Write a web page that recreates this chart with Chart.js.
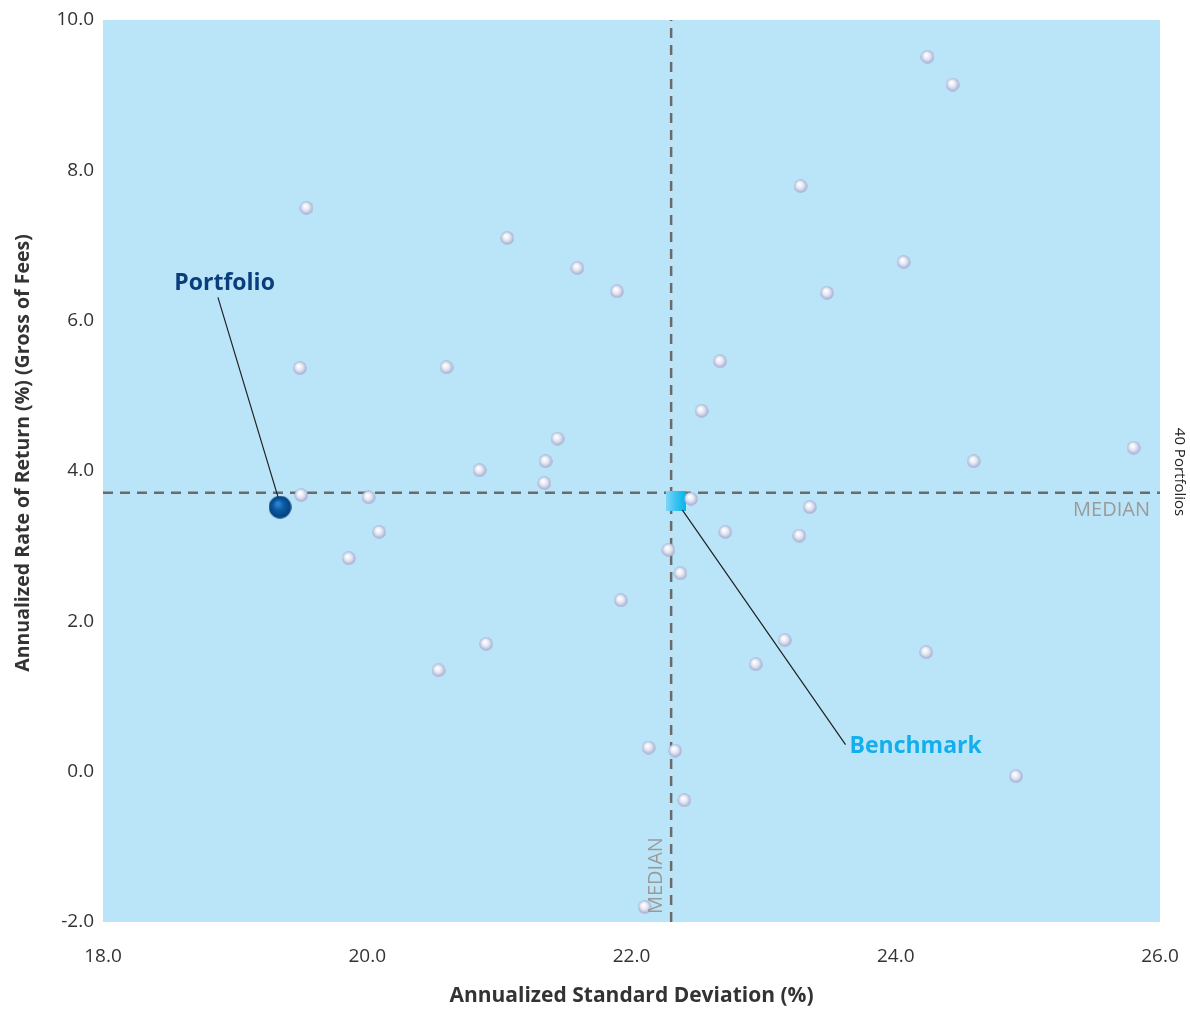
<!DOCTYPE html>
<html>
<head>
<meta charset="utf-8">
<script src="https://cdn.jsdelivr.net/npm/chart.js@4.4.1/dist/chart.umd.min.js"></script>
<style>
  html, body { margin: 0; padding: 0; background: #fff; }
  #wrap { width: 1190px; height: 1009px; }
</style>
</head>
<body>
<div id="wrap"><canvas id="chart" width="1190" height="1009"></canvas></div>
<script>
// peer universe: 40 portfolios (std dev %, return %)
const peerRisk = [24.24, 24.43, 23.28, 19.54, 21.06, 24.06, 21.59, 21.89, 23.48, 22.67,
  19.49, 20.60, 22.53, 21.44, 25.80, 21.35, 24.59, 20.85, 21.34, 19.50,
  20.01, 22.45, 23.35, 20.09, 22.71, 23.27, 22.28, 19.86, 22.37, 21.92,
  23.16, 20.90, 24.23, 22.94, 20.54, 22.13, 22.33, 24.91, 22.40, 22.10];
const peerReturn = [9.51, 9.14, 7.79, 7.50, 7.10, 6.78, 6.70, 6.39, 6.37, 5.46,
  5.37, 5.38, 4.80, 4.43, 4.31, 4.13, 4.13, 4.01, 3.84, 3.68,
  3.65, 3.63, 3.52, 3.19, 3.19, 3.14, 2.95, 2.84, 2.64, 2.28,
  1.75, 1.70, 1.59, 1.43, 1.35, 0.32, 0.28, -0.06, -0.38, -1.80];

const portfolioPoint = { x: 19.34, y: 3.52 };
const benchmarkPoint = { x: 22.34, y: 3.60 };

const medianRisk = 22.30;
const medianReturn = 3.71;

const xTicks = [18, 20, 22, 24, 26];
const yTicks = [-2, 0, 2, 4, 6, 8, 10];

// callout label anchors in data units
const portfolioLabel = { text: 'Portfolio', x: 18.54, y: 6.50, lineX: 18.87, lineY: 6.31 };
const benchmarkLabel = { text: 'Benchmark', x: 23.65, y: 0.33, lineX: 23.62, lineY: 0.36 };

const FONT = '"Open Sans", Lato, sans-serif';

function makeSphere(size, stops) {
  const c = document.createElement('canvas');
  c.width = size; c.height = size;
  const g = c.getContext('2d');
  const r = size / 2;
  const grad = g.createRadialGradient(r * 0.8, r * 0.7, r * 0.1, r, r, r);
  stops.forEach(([p, col]) => grad.addColorStop(p, col));
  g.fillStyle = grad;
  g.beginPath();
  g.arc(r, r, r - 0.3, 0, Math.PI * 2);
  g.fill();
  return c;
}

function makeSquare(size) {
  const c = document.createElement('canvas');
  c.width = size; c.height = size;
  const g = c.getContext('2d');
  const grad = g.createLinearGradient(0, 0, size, 0);
  grad.addColorStop(0, '#7fd5f6');
  grad.addColorStop(0.45, '#3cc4f2');
  grad.addColorStop(1, '#00b6ec');
  g.fillStyle = grad;
  g.fillRect(0, 0, size, size);
  return c;
}

const peerImg = makeSphere(14, [[0, '#ffffff'], [0.45, '#e4e7f3'], [0.8, '#b9bfdc'], [1, '#9ea6c9']]);
const portImg = makeSphere(23, [[0, '#2f86cc'], [0.4, '#0b5ca6'], [0.85, '#034785'], [1, '#023a70']]);
const benchImg = makeSquare(20);

const bgPlugin = {
  id: 'bg',
  beforeDraw(chart) {
    const { ctx, chartArea: a } = chart;
    ctx.save();
    ctx.fillStyle = '#bae5f8';
    ctx.fillRect(a.left, a.top, a.right - a.left, a.bottom - a.top);
    ctx.restore();
  }
};

const notesPlugin = {
  id: 'notes',
  afterDraw(chart) {
    const { ctx, chartArea: a, scales: { x, y } } = chart;
    ctx.save();
    // y axis title, sits a little above the plot centre
    ctx.save();
    ctx.translate(23, (a.top + a.bottom) / 2 - 18);
    ctx.rotate(-Math.PI / 2);
    ctx.fillStyle = '#333';
    ctx.font = 'bold 19.5px ' + FONT;
    ctx.textAlign = 'center';
    ctx.textBaseline = 'middle';
    ctx.fillText('Annualized Rate of Return (%) (Gross of Fees)', 0, 0);
    ctx.restore();

    // median labels
    ctx.fillStyle = '#9a9a9a';
    ctx.font = '20px ' + FONT;
    ctx.textAlign = 'right';
    ctx.textBaseline = 'top';
    ctx.fillText('MEDIAN', a.right - 10, y.getPixelForValue(medianReturn) + 7);
    ctx.save();
    ctx.translate(x.getPixelForValue(medianRisk) - 15, a.bottom - 8);
    ctx.rotate(-Math.PI / 2);
    ctx.textAlign = 'left';
    ctx.textBaseline = 'middle';
    ctx.fillText('MEDIAN', 0, 0);
    ctx.restore();

    // universe count
    ctx.save();
    ctx.translate(a.right + 19, (a.top + a.bottom) / 2 + 1);
    ctx.rotate(Math.PI / 2);
    ctx.fillStyle = '#222';
    ctx.font = '15px ' + FONT;
    ctx.textAlign = 'center';
    ctx.textBaseline = 'middle';
    ctx.fillText('40 Portfolios', 0, 0);
    ctx.restore();

    // callouts
    ctx.strokeStyle = '#222';
    ctx.lineWidth = 1.2;
    ctx.beginPath();
    ctx.moveTo(x.getPixelForValue(portfolioLabel.lineX), y.getPixelForValue(portfolioLabel.lineY));
    ctx.lineTo(x.getPixelForValue(portfolioPoint.x) - 2, y.getPixelForValue(portfolioPoint.y) - 10);
    ctx.moveTo(x.getPixelForValue(benchmarkPoint.x) + 6, y.getPixelForValue(benchmarkPoint.y) + 9);
    ctx.lineTo(x.getPixelForValue(benchmarkLabel.lineX), y.getPixelForValue(benchmarkLabel.lineY));
    ctx.stroke();

    ctx.font = 'bold 23px ' + FONT;
    ctx.textAlign = 'left';
    ctx.textBaseline = 'middle';
    ctx.fillStyle = '#0a3d7c';
    ctx.fillText(portfolioLabel.text, x.getPixelForValue(portfolioLabel.x), y.getPixelForValue(portfolioLabel.y));
    ctx.fillStyle = '#14aeea';
    ctx.fillText(benchmarkLabel.text, x.getPixelForValue(benchmarkLabel.x), y.getPixelForValue(benchmarkLabel.y));
    ctx.restore();
  }
};

const peers = peerRisk.map((r, i) => ({ x: r, y: peerReturn[i] }));
const dashed = { borderColor: '#6b6b6b', borderWidth: 2.5, borderDash: [10, 7], pointRadius: 0, showLine: true, fill: false };

new Chart(document.getElementById('chart'), {
  type: 'scatter',
  data: {
    datasets: [
      { ...dashed, label: 'median return', data: [{ x: 18, y: medianReturn }, { x: 26, y: medianReturn }], order: 4 },
      { ...dashed, label: 'median risk', data: [{ x: medianRisk, y: -2 }, { x: medianRisk, y: 10 }], order: 4 },
      { label: 'Benchmark', data: [benchmarkPoint], pointStyle: benchImg, order: 3 },
      { label: 'Peers', data: peers, pointStyle: peerImg, order: 2 },
      { label: 'Portfolio', data: [portfolioPoint], pointStyle: portImg, order: 1 }
    ]
  },
  options: {
    responsive: false,
    animation: false,
    events: [],
    layout: { padding: { left: 0, right: 30, top: 20, bottom: 0 } },
    plugins: { legend: { display: false }, tooltip: { enabled: false } },
    scales: {
      x: {
        type: 'linear', min: 18, max: 26,
        afterBuildTicks: (s) => { s.ticks = xTicks.map(v => ({ value: v })); },
        afterFit: (s) => { s.height = 87; s.paddingLeft = 0; s.paddingRight = 0; },
        grid: { display: false, drawTicks: false },
        border: { display: false },
        ticks: { color: '#333', font: { family: FONT, size: 19 }, padding: 23, callback: v => v.toFixed(1) },
        title: { display: true, text: 'Annualized Standard Deviation (%)', color: '#333',
          font: { family: FONT, size: 21, weight: 'bold' }, padding: { top: 0, bottom: 0 } }
      },
      y: {
        type: 'linear', min: -2, max: 10,
        afterBuildTicks: (s) => { s.ticks = yTicks.map(v => ({ value: v })); },
        afterFit: (s) => { s.width = 103; s.paddingTop = 0; s.paddingBottom = 0; },
        grid: { display: false, drawTicks: false },
        border: { display: false },
        ticks: { color: '#333', font: { family: FONT, size: 19 }, padding: 9, callback: v => v.toFixed(1) },
        title: { display: false }
      }
    }
  },
  plugins: [bgPlugin, notesPlugin]
});
</script>
</body>
</html>
